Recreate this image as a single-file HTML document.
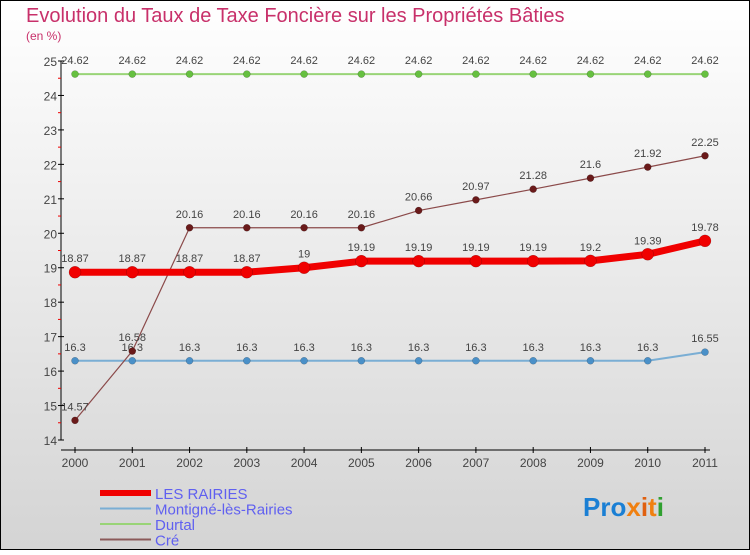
<!DOCTYPE html>
<html><head><meta charset="utf-8"><style>
body{margin:0}
#c{width:750px;height:550px;position:relative;font-family:"Liberation Sans",sans-serif}
</style></head><body>
<div id="c">
<svg id="s" width="750" height="550" xmlns="http://www.w3.org/2000/svg">
<defs><linearGradient id="bg" x1="0" y1="0" x2="0" y2="1"><stop offset="0" stop-color="#ffffff"/><stop offset="1" stop-color="#d4d4d4"/></linearGradient></defs>
<rect x="0.5" y="0.5" width="749" height="549" fill="url(#bg)" stroke="#000"/>
<text x="26" y="22" font-size="20" fill="#c8306a">Evolution du Taux de Taxe Foncière sur les Propriétés Bâties</text>
<text x="26" y="40" font-size="12" fill="#c8306a">(en %)</text>
<g id="axes"></g>
<g id="series"></g>
<g id="legend"></g>
<text x="583" y="516" font-size="26" font-weight="bold"><tspan fill="#1a7fd4">Pro</tspan><tspan fill="#f08010">x</tspan><tspan fill="#e06010">i</tspan><tspan fill="#f08010">t</tspan><tspan fill="#30a030">i</tspan></text>
</svg>
</div>
<script>
const years=[2000,2001,2002,2003,2004,2005,2006,2007,2008,2009,2010,2011];
const yTicks=[14,15,16,17,18,19,20,21,22,23,24,25];
const lesRairies=[18.87,18.87,18.87,18.87,19,19.19,19.19,19.19,19.19,19.2,19.39,19.78];
const montigne=[16.3,16.3,16.3,16.3,16.3,16.3,16.3,16.3,16.3,16.3,16.3,16.55];
const durtal=[24.62,24.62,24.62,24.62,24.62,24.62,24.62,24.62,24.62,24.62,24.62,24.62];
const cre=[14.57,16.58,20.16,20.16,20.16,20.16,20.66,20.97,21.28,21.6,21.92,22.25];
const NS="http://www.w3.org/2000/svg";
const xs=i=>75+i*(630/11);
const ys=v=>440-(v-14)*(379/11);
function mk(t,a,p){const e=document.createElementNS(NS,t);for(const k in a)e.setAttribute(k,a[k]);p.appendChild(e);return e;}
const ax=document.getElementById('axes');
let yl=mk('line',{x1:61,y1:ys(25),x2:61,y2:ys(14),stroke:'#000'},ax);


yTicks.forEach((t,i)=>{
 mk('line',{x1:58,x2:64,y1:ys(t),y2:ys(t),stroke:'#000'},ax);
 if(i<yTicks.length-1)mk('line',{x1:58,x2:61,y1:ys(t+0.5),y2:ys(t+0.5),stroke:'#e00'},ax);
 const tx=mk('text',{x:57,y:ys(t)+5,'font-size':12,fill:'#444','text-anchor':'end'},ax);tx.textContent=t;
 
 
});
let xl=mk('line',{x1:61,y1:450,x2:710,y2:450,stroke:'#000'},ax);


years.forEach((y,i)=>{
 mk('line',{x1:xs(i),x2:xs(i),y1:447,y2:453,stroke:'#000'},ax);
 const tx=mk('text',{x:xs(i),y:467,'font-size':12,fill:'#444','text-anchor':'middle'},ax);tx.textContent=y;
 
 
});
const sg=document.getElementById('series');
function draw(vals,color,w,r,dot,name){
 const g=mk('g',{},sg);
 
 
 mk('polyline',{points:vals.map((v,i)=>xs(i)+','+ys(v)).join(' '),fill:'none',stroke:color,'stroke-width':w,'stroke-linejoin':'round'},g);
 vals.forEach((v,i)=>{
  const c=mk('circle',{cx:xs(i),cy:ys(v),r:r,fill:dot,stroke:'rgba(0,0,0,0.3)','stroke-width':0.5},g);
  
  
  const t=mk('text',{x:xs(i),y:ys(v)-10,'font-size':11,fill:'#444','text-anchor':'middle'},g);t.textContent=v;
  
  
 });
}
draw(durtal,'#99d477',2,3.5,'#66c040','durtal-series');
draw(montigne,'#7aaed4',2,3.5,'#4a90c8','montigne-series');
draw(cre,'#8b4a4a',1.2,3.5,'#6a1a1a','cre-series');
draw(lesRairies,'#f00000',7,6,'#f00000','les-rairies-series');
const lg=document.getElementById('legend');
const leg=[['LES RAIRIES','#f00000',6],['Montigné-lès-Rairies','#7aaed4',2],['Durtal','#99d477',2],['Cré','#8b5a5a',2]];
leg.forEach((l,i)=>{
 const y=493+i*15.5;
 const g=mk('g',{},lg);
 
 
 mk('line',{x1:100,x2:151,y1:y,y2:y,stroke:l[1],'stroke-width':l[2]},g);
 const t=mk('text',{x:155,y:y+6,'font-size':15,fill:'#6060f0'},g);t.textContent=l[0];
});
</script>
</body></html>
